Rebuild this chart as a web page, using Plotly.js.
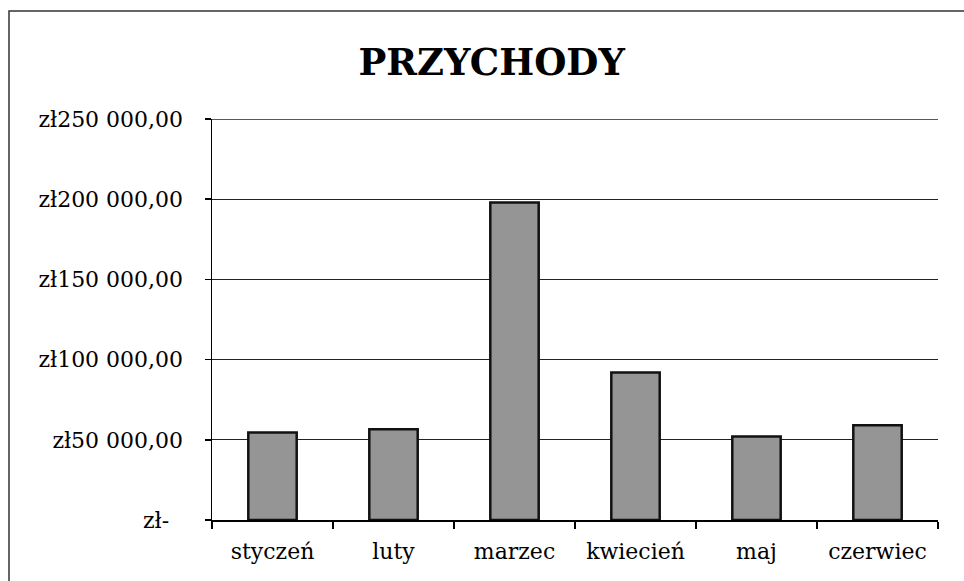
<!DOCTYPE html>
<html>
<head>
<meta charset="utf-8">
<script src="https://cdn.plot.ly/plotly-3.0.1.min.js"></script>
<style>html,body{margin:0;padding:0;background:#fff;}#chart{width:964px;height:581px;}</style>
</head>
<body>
<div id="chart"></div>
<script>
const categories = ["styczeń", "luty", "marzec", "kwiecień", "maj", "czerwiec"];
const revenue = [54500, 56500, 198000, 92000, 52000, 59000];
const yTickValues = [0, 50000, 100000, 150000, 200000, 250000];
const yTickLabels = ["zł-\u2007", "zł50 000,00", "zł100 000,00", "zł150 000,00", "zł200 000,00", "zł250 000,00"];
const chartTitle = "PRZYCHODY";
const yMax = 250000;

const serif = "DejaVu Serif, Liberation Serif, serif";

const trace = {
  type: "bar",
  x: categories,
  y: revenue,
  marker: { color: "#959595", line: { color: "#111", width: 2.5 } },
  hoverinfo: "x+y"
};

const layout = {
  width: 964, height: 581,
  paper_bgcolor: "#fff", plot_bgcolor: "#fff",
  margin: { l: 212, r: 26, t: 119, b: 61 },
  bargap: 0.6,
  showlegend: false,
  title: {
    text: "<b>" + chartTitle + "</b>",
    font: { family: serif, size: 37, color: "#000" },
    xref: "container", x: 0.51, xanchor: "center",
    yref: "container", y: 1 - 62/581, yanchor: "middle"
  },
  xaxis: {
    type: "category",
    showline: true, linecolor: "#000", linewidth: 1.5,
    ticks: "outside", tickson: "boundaries", ticklen: 7, tickcolor: "#000", tickwidth: 1.5,
    showgrid: false,
    tickfont: { family: serif, size: 22, color: "#000" },
    ticklabelstandoff: 11,
    fixedrange: true
  },
  yaxis: {
    range: [0, yMax],
    tickvals: yTickValues, ticktext: yTickLabels,
    showline: true, linecolor: "#000", linewidth: 1.5,
    ticks: "outside", ticklen: 6, tickcolor: "#000", tickwidth: 1.5,
    showgrid: true, gridcolor: "#222", gridwidth: 1.3,
    zeroline: false,
    tickfont: { family: serif, size: 22, color: "#000" },
    ticklabelstandoff: 17,
    fixedrange: true
  },
  shapes: [{
    type: "rect", xref: "paper", yref: "paper",
    x0: (9 - 212) / 726, x1: (1010 - 212) / 726,
    y0: (520 - 620) / 401, y1: (520 - 11) / 401,
    line: { color: "#333", width: 1.5 }, fillcolor: "rgba(0,0,0,0)", layer: "below"
  }, {
    type: "line", xref: "paper", yref: "y",
    x0: 0, x1: 1, y0: yMax, y1: yMax,
    line: { color: "#222", width: 1.3 }, layer: "below"
  }]
};

Plotly.newPlot("chart", [trace], layout, { displayModeBar: false, staticPlot: true });
</script>
</body>
</html>
